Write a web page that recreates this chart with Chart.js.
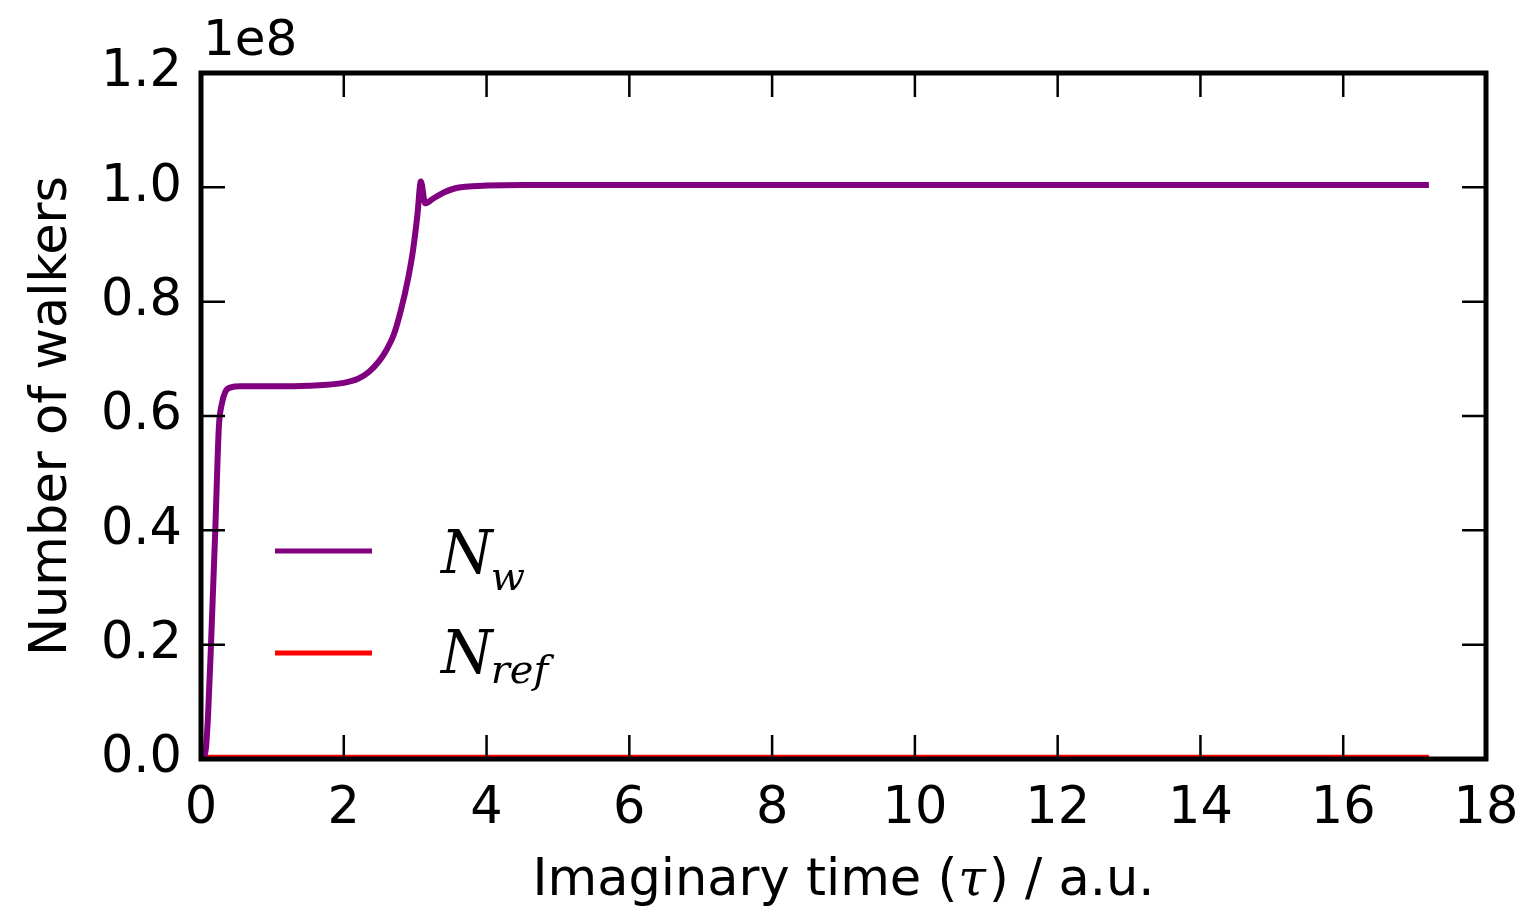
<!DOCTYPE html>
<html>
<head>
<meta charset="utf-8">
<script src="https://cdn.jsdelivr.net/npm/chart.js@4"></script>
<style>
  body { margin: 0; background: #fff; }
  #wrap { width: 1533px; height: 915px; position: relative; }
</style>
</head>
<body>
<div id="wrap"><canvas id="walkers"></canvas></div>
<script>
// imaginary time (a.u.) and walker counts (units of 1e8)
const tauW = [0.03, 0.07, 0.1, 0.14, 0.2, 0.25, 0.29, 0.34, 0.42, 0.55, 1.0, 1.5, 2.0, 2.2, 2.35, 2.5, 2.6, 2.7, 2.8, 2.9, 2.97, 3.03, 3.08, 3.14, 3.25, 3.4, 3.55, 3.7, 4.0, 4.5, 6, 8, 10, 12, 14, 16, 17.2];
const nW   = [0.0, 0.02, 0.08, 0.2, 0.4, 0.58, 0.62, 0.642, 0.65, 0.652, 0.652, 0.653, 0.658, 0.665, 0.677, 0.697, 0.716, 0.742, 0.785, 0.84, 0.89, 0.95, 1.01, 0.972, 0.98, 0.991, 0.998, 1.001, 1.003, 1.004, 1.004, 1.004, 1.004, 1.004, 1.004, 1.004, 1.004];
const tauRef = [0.0, 2, 4, 6, 8, 10, 12, 14, 16, 17.2];
const nRef   = [0.003, 0.003, 0.003, 0.003, 0.003, 0.003, 0.003, 0.003, 0.003, 0.003];

const xTicks = [0, 2, 4, 6, 8, 10, 12, 14, 16, 18];
const yTicks = [0.0, 0.2, 0.4, 0.6, 0.8, 1.0, 1.2];

const sans = "'DejaVu Sans', sans-serif";
const serif = "'DejaVu Serif', serif";

const pts = (xs, ys) => xs.map((x, i) => ({ x: x, y: ys[i] }));

// matplotlib-style frame, inward ticks on all four sides, offset text, x label, legend
const decor = {
  id: "decor",
  afterDraw(chart) {
    const { ctx, chartArea: a, scales: { x, y } } = chart;
    ctx.save();
    ctx.strokeStyle = "#000";
    ctx.lineWidth = 2.5;
    const tl = 24;
    ctx.beginPath();
    xTicks.forEach(v => {
      const px = x.getPixelForValue(v);
      ctx.moveTo(px, a.bottom); ctx.lineTo(px, a.bottom - tl);
      ctx.moveTo(px, a.top); ctx.lineTo(px, a.top + tl);
    });
    yTicks.forEach(v => {
      const py = y.getPixelForValue(v);
      ctx.moveTo(a.left, py); ctx.lineTo(a.left + tl, py);
      ctx.moveTo(a.right, py); ctx.lineTo(a.right - tl, py);
    });
    ctx.stroke();
    ctx.lineWidth = 5;
    ctx.strokeRect(a.left, a.top, a.right - a.left, a.bottom - a.top);

    ctx.fillStyle = "#000";
    ctx.textBaseline = "alphabetic";
    ctx.textAlign = "left";
    ctx.font = "50px " + sans;
    ctx.fillText("1e8", a.left + 2, 55);

    // x axis label with an italic tau
    const p1 = "Imaginary time (", p2 = "τ", p3 = ") / a.u.";
    ctx.font = "51px " + sans;
    const w1 = ctx.measureText(p1).width, w3 = ctx.measureText(p3).width;
    ctx.font = "italic 50px " + serif;
    const w2 = ctx.measureText(p2).width + 4;
    let sx = (a.left + a.right) / 2 - (w1 + w2 + w3) / 2;
    const base = 895;
    ctx.font = "51px " + sans; ctx.fillText(p1, sx, base);
    ctx.font = "italic 50px " + serif; ctx.fillText(p2, sx + w1 + 1, base);
    ctx.font = "51px " + sans; ctx.fillText(p3, sx + w1 + w2, base);

    // legend
    const rows = [
      { ds: 0, sub: "w", ly: 551, base: 573, subDrop: 17 },
      { ds: 1, sub: "ref", ly: 653, base: 673, subDrop: 10 }
    ];
    rows.forEach(r => {
      const d = chart.data.datasets[r.ds];
      ctx.strokeStyle = d.borderColor;
      ctx.lineWidth = 5;
      ctx.beginPath(); ctx.moveTo(275, r.ly); ctx.lineTo(372, r.ly); ctx.stroke();
      ctx.fillStyle = "#000";
      ctx.font = "italic 59px " + serif;
      ctx.fillText("N", 441, r.base);
      const nw = ctx.measureText("N").width;
      ctx.font = "italic 40px " + serif;
      ctx.fillText(r.sub, 441 + nw - 2, r.base + r.subDrop);
    });
    ctx.restore();
  }
};

new Chart(document.getElementById("walkers"), {
  type: "line",
  data: {
    datasets: [{
      label: "N_w",
      data: pts(tauW, nW),
      borderColor: "#800080",
      borderWidth: 6,
      pointRadius: 0,
      cubicInterpolationMode: "monotone"
    }, {
      label: "N_ref",
      data: pts(tauRef, nRef),
      borderColor: "#ff0000",
      borderWidth: 5,
      pointRadius: 0
    }]
  },
  options: {
    responsive: true, maintainAspectRatio: false,
    animation: false,
    layout: { padding: { top: 73, right: 47, left: 0, bottom: 0 } },
    plugins: { legend: { display: false }, tooltip: { enabled: false } },
    scales: {
      x: {
        type: "linear", min: 0, max: 18,
        grid: { display: false, drawTicks: false }, border: { display: false },
        afterFit: s => { s.height = 156; s.paddingLeft = 0; s.paddingRight = 0; },
        afterBuildTicks: s => { s.ticks = xTicks.map(v => ({ value: v })); },
        ticks: { color: "#000", padding: 20, maxRotation: 0, font: { family: sans, size: 51 } }
      },
      y: {
        min: 0, max: 1.2,
        grid: { display: false, drawTicks: false }, border: { display: false },
        afterFit: s => { s.width = 201; s.paddingTop = 0; s.paddingBottom = 0; },
        afterBuildTicks: s => { s.ticks = yTicks.map(v => ({ value: v })); },
        ticks: { color: "#000", padding: 19, font: { family: sans, size: 51 }, callback: v => v.toFixed(1) },
        title: { display: true, text: "Number of walkers", color: "#000", padding: { top: 22 }, font: { family: sans, size: 51 } }
      }
    }
  },
  plugins: [decor]
});
</script>
</body>
</html>
